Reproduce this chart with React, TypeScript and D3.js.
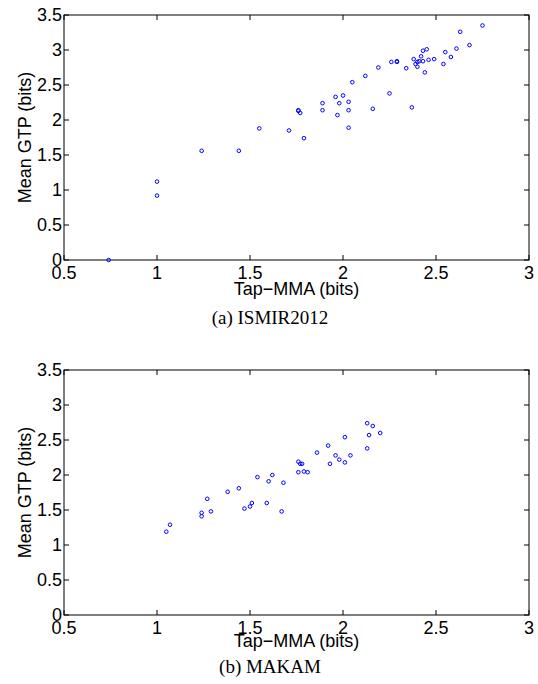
import React from 'react';
import * as d3 from 'd3';

// ISMIR2012 scatter (Tap-MMA vs mean GTP)
const ismirX = [2.75, 2.63, 2.68, 2.61, 2.55, 2.58, 2.54, 2.45, 2.43, 2.42, 2.38, 2.40, 2.41, 2.43, 2.46, 2.49,
  2.39, 2.40, 2.44, 2.34, 2.29, 2.29, 2.26, 2.19, 2.12, 2.05, 2.25, 2.00, 1.96, 1.89, 1.98, 2.03, 1.89, 2.03,
  1.97, 2.16, 2.37, 1.76, 1.76, 1.77, 2.03, 1.71, 1.55, 1.79, 1.00, 1.00, 1.24, 1.44, 0.74];
const ismirY = [3.35, 3.26, 3.07, 3.02, 2.97, 2.90, 2.80, 3.01, 2.99, 2.91, 2.87, 2.83, 2.84, 2.84, 2.86, 2.87,
  2.80, 2.76, 2.68, 2.74, 2.84, 2.83, 2.83, 2.75, 2.63, 2.54, 2.38, 2.35, 2.33, 2.24, 2.24, 2.26, 2.14, 2.14,
  2.07, 2.16, 2.18, 2.14, 2.13, 2.10, 1.89, 1.85, 1.88, 1.74, 1.12, 0.92, 1.56, 1.56, 0.00];

// MAKAM scatter
const makamX = [2.13, 2.16, 2.14, 2.20, 2.01, 2.13, 1.92, 1.86, 1.96, 2.04, 1.98, 2.01, 1.93, 1.76, 1.77, 1.78,
  1.76, 1.79, 1.81, 1.62, 1.60, 1.68, 1.59, 1.67, 1.54, 1.44, 1.38, 1.27, 1.24, 1.24, 1.29, 1.47, 1.50, 1.51,
  1.07, 1.05];
const makamY = [2.74, 2.70, 2.57, 2.60, 2.54, 2.38, 2.42, 2.32, 2.28, 2.28, 2.22, 2.18, 2.16, 2.19, 2.16, 2.16,
  2.04, 2.05, 2.04, 2.00, 1.91, 1.89, 1.60, 1.48, 1.97, 1.81, 1.76, 1.66, 1.46, 1.41, 1.48, 1.52, 1.55, 1.60,
  1.29, 1.19];

const xTicks = [0.5, 1, 1.5, 2, 2.5, 3];
const yTicks = [0, 0.5, 1, 1.5, 2, 2.5, 3, 3.5];

const sans = 'Liberation Sans, Arial, Helvetica, sans-serif';
const serif = 'Liberation Serif, Times New Roman, serif';

type PanelProps = {
  xs: number[];
  ys: number[];
  top: number;
  labelOff: number;
  captionOff: number;
  caption: string;
};

const left = 64;
const right = 529;
const plotH = 245;
const tickLen = 5;

// one subfigure: axes box, inward ticks, blue open circles, labels and caption
const Panel = ({ xs, ys, top, labelOff, captionOff, caption }: PanelProps) => {
  const bottom = top + plotH;
  const x = d3.scaleLinear().domain([0.5, 3]).range([left, right]);
  const y = d3.scaleLinear().domain([0, 3.5]).range([bottom, top]);
  const midY = (top + bottom) / 2;

  return (
    <g>
      <rect x={left} y={top} width={right - left} height={plotH} fill="none" stroke="#000" strokeWidth={1} />
      {xTicks.map((t) => (
        <g key={'x' + t}>
          <line x1={x(t)} x2={x(t)} y1={bottom} y2={bottom - tickLen} stroke="#000" />
          <line x1={x(t)} x2={x(t)} y1={top} y2={top + tickLen} stroke="#000" />
          <text x={x(t)} y={bottom + 19} textAnchor="middle" fontSize={18} fontFamily={sans}>{t}</text>
        </g>
      ))}
      {yTicks.map((t) => (
        <g key={'y' + t}>
          <line x1={left} x2={left + tickLen} y1={y(t)} y2={y(t)} stroke="#000" />
          <line x1={right} x2={right - tickLen} y1={y(t)} y2={y(t)} stroke="#000" />
          <text x={62} y={y(t)} dy="0.36em" textAnchor="end" fontSize={18} fontFamily={sans}>{t}</text>
        </g>
      ))}
      {xs.map((v, i) => (
        <circle key={i} cx={x(v)} cy={y(ys[i])} r={1.8} fill="none" stroke="#0000ff" strokeWidth={1} />
      ))}
      <text x={(left + right) / 2} y={bottom + labelOff} textAnchor="middle" fontSize={18} fontFamily={sans}>
        Tap−MMA (bits)
      </text>
      <text transform={`translate(31,${midY}) rotate(-90)`} textAnchor="middle" fontSize={18} fontFamily={sans}>
        Mean GTP (bits)
      </text>
      <text x={270} y={bottom + captionOff} textAnchor="middle" fontSize={19} fontFamily={serif}>
        {caption}
      </text>
    </g>
  );
};

const App = () => {
  return (
    <svg width={538} height={684} style={{ position: 'absolute', left: 0, top: 0, background: '#fff' }}>
      <rect width={538} height={684} fill="#fff" />
      <Panel xs={ismirX} ys={ismirY} top={15} labelOff={35} captionOff={64} caption="(a) ISMIR2012" />
      <Panel xs={makamX} ys={makamY} top={370} labelOff={32} captionOff={58} caption="(b) MAKAM" />
    </svg>
  );
};

export default App;
